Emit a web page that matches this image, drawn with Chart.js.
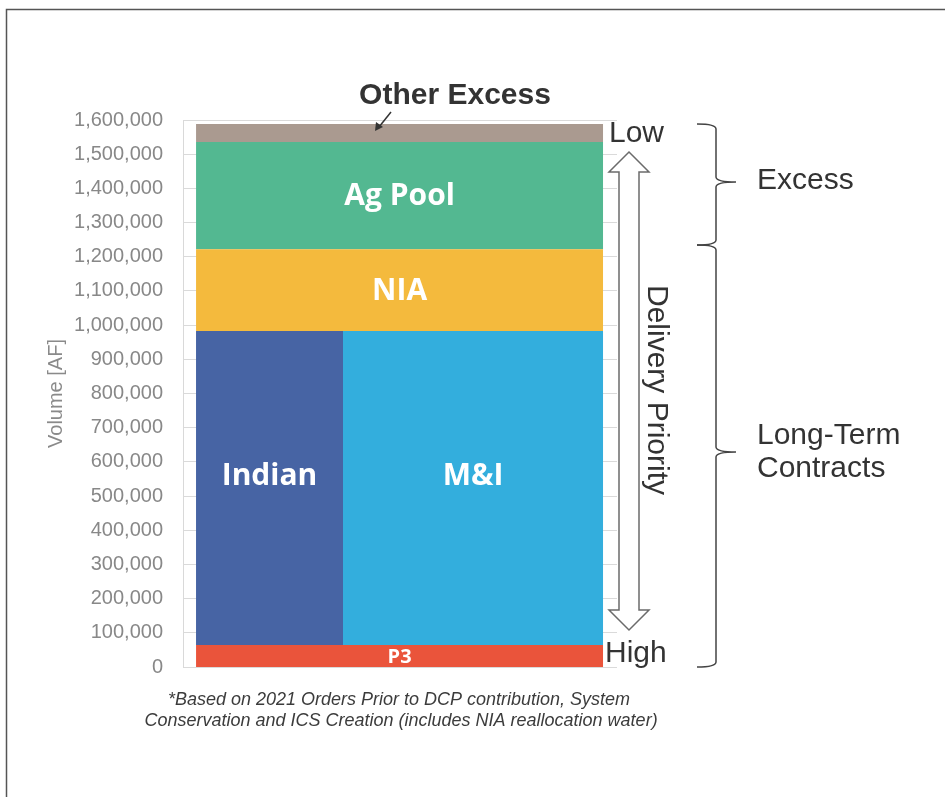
<!DOCTYPE html>
<html>
<head>
<meta charset="utf-8">
<script src="https://cdn.jsdelivr.net/npm/chart.js@4.4.1/dist/chart.umd.min.js"></script>
<style>
  html, body { margin: 0; padding: 0; background: #ffffff; }
  #wrap { width: 945px; height: 797px; }
</style>
</head>
<body>
<div id="wrap"><canvas id="c" width="945" height="797"></canvas></div>
<script>
// ---------------- DATA ----------------
const layerNames  = ['P3', 'Indian', 'M&I', 'NIA', 'Ag Pool', 'Other Excess'];
const layerBottom = [0,      64000,   64000,  983000,  1222000, 1536000];
const layerTop    = [64000,  983000,  983000, 1222000, 1536000, 1588000];
// horizontal share of the column occupied by each block (0 = left edge, 1 = right edge)
const indianShare = 0.361;
const layerXStart = [0, 0,           indianShare, 0, 0, 0];
const layerXEnd   = [1, indianShare, 1,           1, 1, 1];
const layerColors = ['#ea543b', '#4764a4', '#33aedd', '#f4ba3d', '#53b891', '#aa9a90'];
const yMin = 0, yMax = 1600000, yStep = 100000;
const yTitle = 'Volume [AF]';
const footnote = ['*Based on 2021 Orders Prior to DCP contribution, System',
                  'Conservation and ICS Creation (includes NIA reallocation water)'];

// ---------------- DATASETS ----------------
const datasets = layerNames.map((name, i) => ({
  label: name,
  data: [{x: layerXStart[i], y: layerTop[i]}, {x: layerXEnd[i], y: layerTop[i]}],
  backgroundColor: layerColors[i],
  borderColor: layerColors[i],
  borderWidth: 0,
  pointRadius: 0,
  fill: {value: layerBottom[i]},
  tension: 0
}));

const annotations = {
  id: 'annotations',
  afterDraw(chart) {
    const ctx = chart.ctx;
    const xs = chart.scales.x, ys = chart.scales.y;
    ctx.save();

    // frame
    ctx.strokeStyle = '#555555';
    ctx.lineWidth = 1.5;
    ctx.beginPath();
    ctx.moveTo(6.5, 800); ctx.lineTo(6.5, 9.5); ctx.lineTo(950, 9.5);
    ctx.stroke();

    // labels inside blocks
    ctx.fillStyle = '#ffffff';
    ctx.textAlign = 'center';
    ctx.textBaseline = 'middle';
    layerNames.forEach((name, i) => {
      if (name === 'Other Excess') return;
      const cx = xs.getPixelForValue((layerXStart[i] + layerXEnd[i]) / 2);
      let v = (layerBottom[i] + layerTop[i]) / 2;
      if (name === 'Indian' || name === 'M&I') v = 560000;
      const cy = ys.getPixelForValue(v);
      ctx.font = (name === 'P3' ? '700 20px "Open Sans"' : '700 30px "Open Sans"');
      ctx.fillText(name, cx, cy + 1);
    });

    // Other Excess callout
    ctx.fillStyle = '#333333';
    ctx.font = 'bold 30px "Liberation Sans", Arial';
    ctx.fillText('Other Excess', 455, 96);
    ctx.strokeStyle = '#333333';
    ctx.lineWidth = 1.5;
    ctx.beginPath(); ctx.moveTo(391, 112); ctx.lineTo(379, 127); ctx.stroke();
    ctx.beginPath();
    ctx.moveTo(375, 131); ctx.lineTo(376, 122); ctx.lineTo(383, 127); ctx.closePath();
    ctx.fillStyle = '#333333'; ctx.fill();

    // Low / High
    ctx.fillStyle = '#333333';
    ctx.font = '30px "Liberation Sans", Arial';
    ctx.textAlign = 'left';
    ctx.textBaseline = 'alphabetic';
    ctx.fillText('Low', 609, 142);
    ctx.fillText('High', 605, 662);

    // double arrow
    ctx.strokeStyle = '#6b6b6b';
    ctx.lineWidth = 1.5;
    ctx.beginPath();
    ctx.moveTo(629, 152);
    ctx.lineTo(649, 172); ctx.lineTo(639, 172);
    ctx.lineTo(639, 610); ctx.lineTo(649, 610);
    ctx.lineTo(629, 630);
    ctx.lineTo(609, 610); ctx.lineTo(619, 610);
    ctx.lineTo(619, 172); ctx.lineTo(609, 172);
    ctx.closePath();
    ctx.stroke();

    // Delivery Priority
    ctx.save();
    ctx.translate(656, 390);
    ctx.rotate(Math.PI / 2);
    ctx.textAlign = 'center';
    ctx.textBaseline = 'middle';
    ctx.fillStyle = '#333333';
    ctx.font = '30px "Liberation Sans", Arial';
    ctx.fillText('Delivery Priority', 0, 0);
    ctx.restore();

    // braces
    function brace(top, mid, bot) {
      const xl = 697, xv = 716, xt = 736, r = 5;
      ctx.beginPath();
      ctx.moveTo(xl, top);
      ctx.quadraticCurveTo(xv, top, xv, top + r);
      ctx.lineTo(xv, mid - r);
      ctx.quadraticCurveTo(xv, mid, xt, mid);
      ctx.quadraticCurveTo(xv, mid, xv, mid + r);
      ctx.lineTo(xv, bot - r);
      ctx.quadraticCurveTo(xv, bot, xl, bot);
      ctx.stroke();
    }
    ctx.strokeStyle = '#444444';
    ctx.lineWidth = 1.5;
    brace(124, 182, 245);
    brace(245, 452, 667);

    ctx.fillStyle = '#333333';
    ctx.font = '30px "Liberation Sans", Arial';
    ctx.textAlign = 'left';
    ctx.textBaseline = 'middle';
    ctx.fillText('Excess', 757, 181);
    ctx.fillText('Long-Term', 757, 436);
    ctx.fillText('Contracts', 757, 469);

    // footnote
    ctx.fillStyle = '#3c3c3c';
    ctx.font = 'italic 18px "Liberation Sans", Arial';
    ctx.textAlign = 'center';
    ctx.fillText(footnote[0], 399, 700);
    ctx.fillText(footnote[1], 401, 721);

    ctx.restore();
  }
};

new Chart(document.getElementById('c'), {
  type: 'line',
  data: { datasets },
  options: {
    responsive: false,
    devicePixelRatio: 1,
    animation: false,
    layout: { padding: { left: 0, top: 120, right: 328, bottom: 130 } },
    plugins: { legend: { display: false }, tooltip: { enabled: false } },
    scales: {
      x: {
        type: 'linear',
        display: false,
        min: -0.032,
        max: 1.034
      },
      y: {
        min: yMin,
        max: yMax,
        afterFit(scale) { scale.width = 183; },
        border: { display: true, color: '#d9d9d9', width: 1 },
        grid: { color: '#dadada', drawTicks: false, lineWidth: 1 },
        ticks: {
          stepSize: yStep,
          padding: 20,
          color: '#888888',
          font: { family: '"Liberation Sans", Arial', size: 20 },
          callback: (v) => v.toLocaleString('en-US')
        },
        title: {
          display: true,
          text: yTitle,
          color: '#8a8a8a',
          font: { family: '"Liberation Sans", Arial', size: 20 },
          padding: { top: 44, bottom: 0 }
        }
      }
    }
  },
  plugins: [annotations]
});
</script>
</body>
</html>
